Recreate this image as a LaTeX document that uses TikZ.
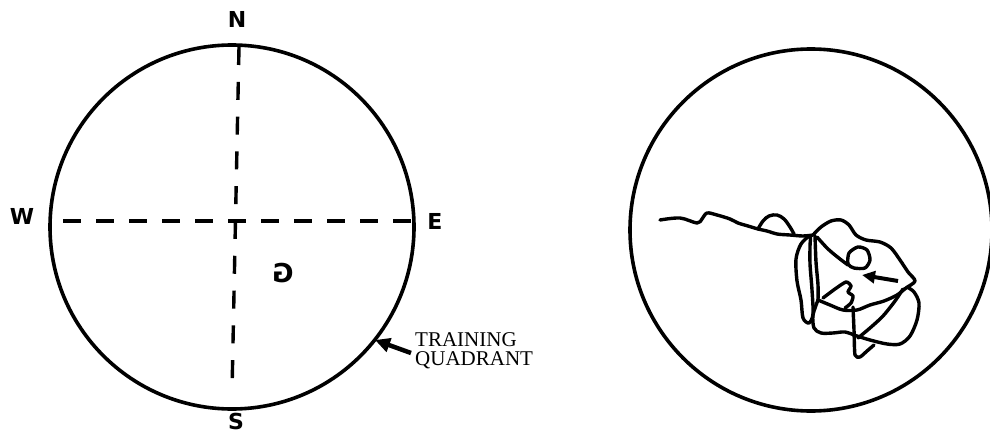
\documentclass[tikz,border=0pt]{standalone}
\usepackage{fontspec}
\setmainfont{Liberation Serif}
\newfontfamily\lblfont{DejaVu Sans}
\usetikzlibrary{arrows.meta}
\begin{document}
\begin{tikzpicture}[x=1pt,y=-1pt,
  ring/.style={line width=3.6pt},
  haxis/.style={line width=3.4pt, dash pattern=on 18pt off 15pt},
  vaxis/.style={line width=3.4pt, dash pattern=on 18pt off 16.8pt},
  compass/.style={font=\lblfont\bfseries\fontsize{22}{22}\selectfont, inner sep=0pt},
  caption/.style={font=\fontsize{21}{21}\selectfont, inner sep=0pt, anchor=base west},
  trail/.style={line width=3.4pt, line join=round, line cap=round},
  pointer/.style={line width=4.5pt, -{Triangle[length=15pt,width=14pt]}},
  smallpointer/.style={line width=4pt, -{Triangle[length=13pt,width=12pt]}}
]
\useasboundingbox (0,0) rectangle (990,433);
% ---------- left circle ----------
\draw[ring] (232,227) circle[radius=182pt];
\coordinate (w0) at (63,221);
\coordinate (e0) at (412,221);
\coordinate (n0) at (239,47);
\coordinate (s0) at (232,392);
\draw[haxis] (w0) -- (e0);
\draw[vaxis] (n0) -- (s0);
\node[compass] (N) at (237,19) {N};
\node[compass] (W) at (22,216) {W};
\node[compass] (E) at (435,221) {E};
\node[compass] (S) at (236,421) {S};
\node[font=\lblfont\bfseries\fontsize{26}{26}\selectfont, inner sep=0pt] (G) at (283,273) {\scalebox{-1}[1]{G}};
\node[caption] (tq1) at (415,346) {TRAINING};
\node[caption] (tq2) at (415,365) {QUADRANT};
\coordinate (atail) at (411,353);
\coordinate (atip) at (375,340);
\draw[pointer] (atail) -- (atip);
% ---------- right circle ----------
\draw[ring] (811,230) circle[radius=181pt];
% trail
\draw[trail] plot[smooth, tension=0.55] coordinates {(660,220) (680,218) (697,223) (702,219) (707,213) (717,215) (730,219) (738,223) (748,226) (758,229) (767,231) (777,234) (790,235) (803,236) (813,235)};
\draw[trail] plot[smooth, tension=0.6] coordinates {(758,229) (763,221) (769,216) (777,215) (784,219) (790,227) (794,234)};
% outer blob
\draw[trail] plot[smooth, tension=0.5] coordinates {(813,235) (821,227) (831,221) (841,220) (849,225) (856,235) (866,240) (880,242) (891,248) (900,260) (908,272) (915,281) (906,288) (897,295) (884,301) (870,305) (857,310) (843,310) (830,305) (818,300)};
% left narrow loop
\draw[trail] plot[smooth cycle, tension=0.5] coordinates {(810,236) (801,244) (796,259) (797,281) (801,300) (803,318) (809,323) (813,314) (812,290) (810,264) (810,246)};
% second vertical line
\draw[trail] plot[smooth, tension=0.5] coordinates {(815,236) (816,262) (818,285) (818,300)};
% lower lobe
\draw[trail] plot[smooth, tension=0.5] coordinates {(818,300) (813,315) (814,328) (821,333) (833,333) (845,332) (857,336) (870,340) (887,344) (900,344) (910,336) (917,320) (919,303) (914,292) (907,287)};
% vertical line down
\draw[trail] plot[smooth, tension=0.4] coordinates {(853,307) (854,330) (855,355) (860,357) (867,351) (874,345)};
% diagonal
\draw[trail] plot[smooth, tension=0.5] coordinates {(858,338) (870,328) (883,316) (895,301) (903,289)};
% inner zigzag
\draw[trail] plot[smooth, tension=0.4] coordinates {(823,298) (835,289) (846,282) (851,286) (848,292) (853,296) (851,303) (845,308)};
% diagonal from top-left to square
\draw[trail] plot[smooth, tension=0.5] coordinates {(817,237) (828,249) (840,259) (848,265)};
% small square loop
\draw[trail] plot[smooth cycle, tension=0.45] coordinates {(848,264) (849,253) (858,247) (867,250) (870,260) (865,268) (854,268)};
% small arrow
\coordinate (btail) at (898,281);
\coordinate (btip) at (862,275);
\draw[smallpointer] (btail) -- (btip);
\end{tikzpicture}
\end{document}
